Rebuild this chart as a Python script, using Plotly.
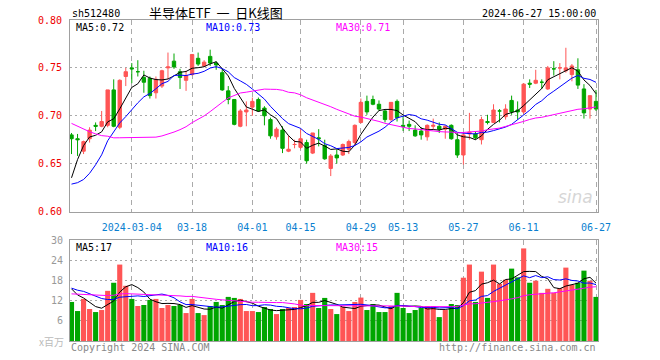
import plotly.graph_objects as go
import pandas as pd

# ---------------- data ----------------
dates = [
    "2024-02-19", "2024-02-20", "2024-02-21", "2024-02-22", "2024-02-23",
    "2024-02-26", "2024-02-27", "2024-02-28", "2024-02-29", "2024-03-01",
    "2024-03-04", "2024-03-05", "2024-03-06", "2024-03-07", "2024-03-08",
    "2024-03-11", "2024-03-12", "2024-03-13", "2024-03-14", "2024-03-15",
    "2024-03-18", "2024-03-19", "2024-03-20", "2024-03-21", "2024-03-22",
    "2024-03-25", "2024-03-26", "2024-03-27", "2024-03-28", "2024-03-29",
    "2024-04-01", "2024-04-02", "2024-04-03", "2024-04-08", "2024-04-09",
    "2024-04-10", "2024-04-11", "2024-04-12", "2024-04-15", "2024-04-16",
    "2024-04-17", "2024-04-18", "2024-04-19", "2024-04-22", "2024-04-23",
    "2024-04-24", "2024-04-25", "2024-04-26", "2024-04-29", "2024-04-30",
    "2024-05-06", "2024-05-07", "2024-05-08", "2024-05-09", "2024-05-10",
    "2024-05-13", "2024-05-14", "2024-05-15", "2024-05-16", "2024-05-17",
    "2024-05-20", "2024-05-21", "2024-05-22", "2024-05-23", "2024-05-24",
    "2024-05-27", "2024-05-28", "2024-05-29", "2024-05-30", "2024-05-31",
    "2024-06-03", "2024-06-04", "2024-06-05", "2024-06-06", "2024-06-07",
    "2024-06-11", "2024-06-12", "2024-06-13", "2024-06-14", "2024-06-17",
    "2024-06-18", "2024-06-19", "2024-06-20", "2024-06-21", "2024-06-24",
    "2024-06-25", "2024-06-26", "2024-06-27",
]

opens = [
    0.680, 0.676, 0.663, 0.676, 0.690, 0.689, 0.690, 0.727, 0.688, 0.741,
    0.750, 0.746, 0.740, 0.739, 0.724, 0.731, 0.750, 0.757, 0.746, 0.737,
    0.743, 0.760, 0.752, 0.762, 0.755, 0.745, 0.726, 0.717, 0.689, 0.704,
    0.709, 0.717, 0.708, 0.696, 0.678, 0.685, 0.663, 0.670, 0.667, 0.672,
    0.661, 0.677, 0.669, 0.645, 0.659, 0.659, 0.665, 0.672, 0.693, 0.715,
    0.717, 0.712, 0.705, 0.696, 0.715, 0.690, 0.691, 0.685, 0.684, 0.678,
    0.689, 0.689, 0.686, 0.690, 0.675, 0.659, 0.681, 0.681, 0.675, 0.694,
    0.693, 0.705, 0.699, 0.716, 0.706, 0.704, 0.734, 0.734, 0.735, 0.728,
    0.749, 0.750, 0.747, 0.743, 0.748, 0.728, 0.707, 0.715,
]
highs = [
    0.682, 0.681, 0.674, 0.688, 0.693, 0.705, 0.727, 0.738, 0.738, 0.750,
    0.755, 0.758, 0.747, 0.741, 0.741, 0.748, 0.766, 0.765, 0.749, 0.747,
    0.764, 0.766, 0.758, 0.769, 0.757, 0.749, 0.731, 0.717, 0.707, 0.715,
    0.719, 0.719, 0.710, 0.698, 0.688, 0.689, 0.679, 0.675, 0.686, 0.675,
    0.682, 0.686, 0.675, 0.660, 0.665, 0.671, 0.675, 0.691, 0.718, 0.721,
    0.721, 0.716, 0.706, 0.714, 0.717, 0.700, 0.695, 0.690, 0.688, 0.691,
    0.697, 0.693, 0.690, 0.691, 0.682, 0.682, 0.703, 0.684, 0.699, 0.701,
    0.712, 0.707, 0.712, 0.721, 0.715, 0.734, 0.738, 0.748, 0.738, 0.752,
    0.757, 0.755, 0.771, 0.754, 0.760, 0.733, 0.721, 0.727,
]
lows = [
    0.660, 0.658, 0.660, 0.672, 0.684, 0.688, 0.688, 0.688, 0.686, 0.731,
    0.734, 0.741, 0.724, 0.718, 0.718, 0.729, 0.738, 0.749, 0.728, 0.726,
    0.742, 0.752, 0.751, 0.752, 0.748, 0.726, 0.712, 0.690, 0.688, 0.689,
    0.700, 0.704, 0.690, 0.676, 0.675, 0.661, 0.662, 0.666, 0.665, 0.650,
    0.660, 0.668, 0.654, 0.637, 0.650, 0.658, 0.660, 0.669, 0.692, 0.701,
    0.711, 0.705, 0.693, 0.694, 0.694, 0.684, 0.684, 0.678, 0.675, 0.674,
    0.686, 0.682, 0.676, 0.675, 0.656, 0.649, 0.675, 0.675, 0.670, 0.691,
    0.693, 0.693, 0.696, 0.701, 0.696, 0.702, 0.729, 0.733, 0.728, 0.727,
    0.742, 0.738, 0.745, 0.736, 0.728, 0.697, 0.697, 0.705,
]
closes = [
    0.676, 0.675, 0.673, 0.685, 0.689, 0.694, 0.727, 0.689, 0.737, 0.746,
    0.749, 0.746, 0.735, 0.721, 0.738, 0.747, 0.751, 0.751, 0.740, 0.742,
    0.764, 0.754, 0.756, 0.755, 0.753, 0.727, 0.717, 0.691, 0.705, 0.706,
    0.715, 0.705, 0.700, 0.679, 0.686, 0.666, 0.665, 0.670, 0.676, 0.653,
    0.682, 0.676, 0.655, 0.658, 0.656, 0.670, 0.673, 0.690, 0.714, 0.704,
    0.712, 0.707, 0.696, 0.714, 0.698, 0.689, 0.689, 0.679, 0.680, 0.690,
    0.690, 0.686, 0.689, 0.676, 0.659, 0.680, 0.683, 0.677, 0.696, 0.693,
    0.706, 0.705, 0.707, 0.704, 0.704, 0.733, 0.733, 0.737, 0.735, 0.750,
    0.749, 0.750, 0.750, 0.752, 0.732, 0.703, 0.721, 0.707,
]
volumes = [
    11.6, 8.9, 12.5, 9.5, 8.6, 9.2, 14.9, 17.3, 22.7, 16.4,
    12.5, 10.4, 10.7, 12.2, 12.5, 9.8, 10.7, 10.4, 10.7, 8.3,
    12.5, 8.3, 7.7, 10.4, 11.6, 10.7, 13.1, 12.8, 12.5, 8.9,
    8.9, 8.6, 10.1, 9.5, 8.0, 9.5, 9.8, 10.1, 12.2, 11.0,
    14.3, 9.8, 12.8, 9.5, 8.0, 10.2, 8.9, 11.6, 12.9, 9.2,
    11.0, 8.6, 8.6, 10.4, 14.3, 9.8, 8.3, 9.2, 9.8, 10.4,
    10.4, 7.1, 9.2, 11.0, 10.7, 18.8, 22.7, 11.6, 20.6, 12.8,
    22.7, 17.0, 18.2, 21.5, 18.9, 27.5, 17.3, 17.9, 14.3, 15.5,
    14.3, 15.7, 21.8, 16.7, 17.3, 20.9, 17.9, 13.1,
]
# sessions before the visible window (needed for the moving averages at the left edge)
pre_closes = [
    0.770, 0.765, 0.760, 0.755, 0.750, 0.745, 0.740, 0.735, 0.745, 0.740,
    0.745, 0.735, 0.730, 0.720, 0.710, 0.700, 0.680, 0.665, 0.650, 0.635,
    0.660, 0.640, 0.620, 0.600, 0.590, 0.580, 0.600, 0.640, 0.680,
]
pre_volumes = [
    12, 14, 13, 15, 12, 13, 14, 12, 13, 14,
    13, 12, 14, 13, 15, 13, 12, 14, 13, 12,
    15, 16, 17, 16, 15.5, 18, 17, 16, 14.9,
]

tick_dates = ["2024-03-04", "2024-03-18", "2024-04-01", "2024-04-15", "2024-04-29",
              "2024-05-13", "2024-05-27", "2024-06-11", "2024-06-27"]
tick_labels = ["2024-03-04", "03-18", "04-01", "04-15", "04-29",
               "05-13", "05-27", "06-11", "06-27"]
price_ticks = [0.60, 0.65, 0.70, 0.75, 0.80]
price_tick_labels = ["0.60", "0.65", "0.70", "0.75", "0.80"]
vol_ticks = [6, 12, 18, 24, 30]

ma_periods = [5, 10, 30]
ma_colors = ["#000000", "#0000FF", "#FF00FF"]
price_ma_labels = ["MA5:0.72", "MA10:0.73", "MA30:0.71"]
vol_ma_labels = ["MA5:17", "MA10:16", "MA30:15"]

# ---------------- styling ----------------
RED = "#FF5555"
GREEN = "#00A600"
GRID = "#AAAAAA"
BORDER = "#A0A0A0"
MONO = "DejaVu Sans Mono"
CJK = "Noto Sans CJK SC"

W, H = 660, 360
# plot area in window pixels: x 70..598, y 20..341
L, R, T, B = 70, 660 - 598, 20, 360 - 341
PW, PH = W - L - R, H - T - B


def paper(px, py):
    """window pixel -> paper coords"""
    return (px - L) / PW, (H - B - py) / PH


def moving_average(pre, vals, n):
    s = pd.Series(list(pre) + list(vals)).rolling(n).mean()
    return s.iloc[len(pre):].tolist()


fig = go.Figure()

fig.add_trace(go.Candlestick(
    x=dates, open=opens, high=highs, low=lows, close=closes,
    increasing=dict(line=dict(color=RED, width=1), fillcolor=RED),
    decreasing=dict(line=dict(color=GREEN, width=1), fillcolor=GREEN),
    whiskerwidth=0, xaxis="x", yaxis="y", showlegend=False, hoverinfo="skip",
))
for n, col in zip(ma_periods, ma_colors):
    fig.add_trace(go.Scatter(
        x=dates, y=moving_average(pre_closes, closes, n), mode="lines",
        line=dict(color=col, width=1), xaxis="x", yaxis="y",
        showlegend=False, hoverinfo="skip",
    ))

bar_colors = [RED if c >= o else GREEN for o, c in zip(opens, closes)]
fig.add_trace(go.Bar(
    x=dates, y=volumes, marker=dict(color=bar_colors, line=dict(width=0)),
    xaxis="x2", yaxis="y2", showlegend=False, hoverinfo="skip",
))
for n, col in zip(ma_periods, ma_colors):
    fig.add_trace(go.Scatter(
        x=dates, y=moving_average(pre_volumes, volumes, n), mode="lines",
        line=dict(color=col, width=1), xaxis="x2", yaxis="y2",
        showlegend=False, hoverinfo="skip",
    ))

xr = [-0.25, len(dates) - 1 + 0.33]
common_x = dict(
    type="category", range=xr, tickmode="array", tickvals=tick_dates,
    showgrid=True, gridcolor=GRID, griddash="5px,4px", gridwidth=1,
    showline=True, mirror=True, linecolor=BORDER, linewidth=1,
    zeroline=False, ticks="", fixedrange=True,
)

main_bottom = paper(0, 211.5)[1]
vol_top = paper(0, 240)[1]

annotations = []


def add_text(text, px, py, color, size=10, family=MONO, xanchor="left", italic=False):
    x, y = paper(px, py)
    annotations.append(dict(
        text=text, x=x, y=y, xref="paper", yref="paper", showarrow=False,
        xanchor=xanchor, yanchor="middle",
        font=dict(family=family, size=size, color=color,
                  style="italic" if italic else "normal"),
    ))


NB = "\u00a0"
add_text("sh512480", 70, 13, "#000000")
add_text("半导体ETF" + NB * 2 + "一" + NB * 2 + "日K线图", 216, 12, "#000000",
         size=13, family=CJK, xanchor="center")
add_text("2024-06-27 15:00:00", 598, 13, "#000000", xanchor="right")
for lab, col, px in zip(price_ma_labels, ma_colors, [74, 204, 334]):
    add_text(lab, px, 27, col)
for lab, col, px in zip(vol_ma_labels, ma_colors, [74, 204, 334]):
    add_text(lab, px, 247, col)
add_text("Copyright 2024 SINA.COM", 69, 347, "#888888")
add_text("http://finance.sina.com.cn", 598, 347, "#888888", xanchor="right")
add_text("x百万", 66, 341, "#BBBBBB", size=10, family=CJK, xanchor="right")
add_text("sina", 595, 197, "#D6D6D6", size=17, family="DejaVu Sans", xanchor="right", italic=True)

fig.update_layout(
    width=W, height=H,
    margin=dict(l=L, r=R, t=T, b=B, pad=0, autoexpand=False),
    paper_bgcolor="white", plot_bgcolor="white",
    showlegend=False, boxgap=0.2, bargap=0.15,
    xaxis=dict(
        **common_x, anchor="y", rangeslider=dict(visible=False),
        ticktext=tick_labels, showticklabels=True,
        tickfont=dict(family=MONO, size=10, color="#0A7FD0"),
        ticklabelstandoff=6,
    ),
    xaxis2=dict(**common_x, anchor="y2", matches="x", showticklabels=False),
    yaxis=dict(
        domain=[main_bottom, 1.0], range=[0.60, 0.80],
        tickmode="array", tickvals=price_ticks, ticktext=price_tick_labels,
        tickfont=dict(family=MONO, size=10, color="#EE0000"),
        showgrid=True, gridcolor=GRID, griddash="2px,3px", gridwidth=1,
        showline=True, mirror=True, linecolor=BORDER, linewidth=1,
        zeroline=False, ticks="", ticklabelstandoff=5, fixedrange=True,
    ),
    yaxis2=dict(
        domain=[0.0, vol_top], range=[0, 30],
        tickmode="array", tickvals=vol_ticks,
        tickfont=dict(family=MONO, size=10, color="#999999"),
        showgrid=True, gridcolor=GRID, griddash="2px,3px", gridwidth=1,
        showline=True, mirror=True, linecolor=BORDER, linewidth=1,
        zeroline=False, ticks="", ticklabelstandoff=4, fixedrange=True,
    ),
    annotations=annotations,
)

fig.write_html(
    "out.html",
    config={"displayModeBar": False},
    post_script="document.body.style.margin='0px';document.body.style.overflow='hidden';",
)
